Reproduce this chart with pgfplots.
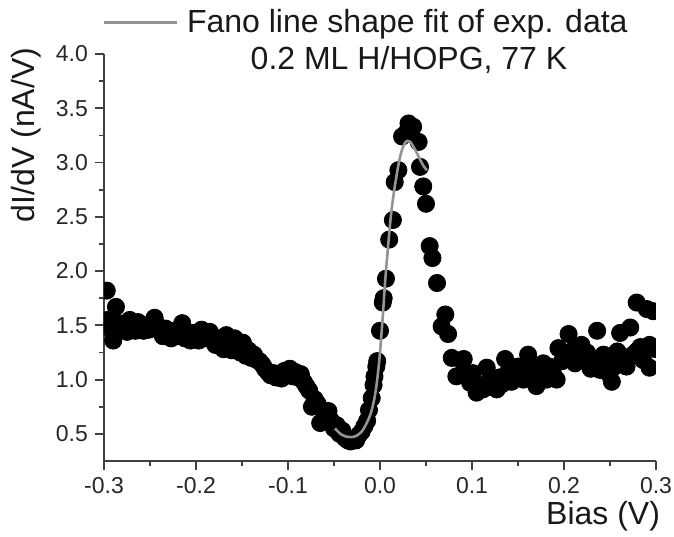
\documentclass[border=0pt]{standalone}
\usepackage{fontspec}
\setmainfont{Liberation Sans}
\usepackage{pgfplots}
\pgfplotsset{compat=1.18}
\begin{document}
\begin{tikzpicture}
\path[use as bounding box] (-52pt,-37.5pt) rectangle (285pt,230.5pt);
\begin{axis}[
  scale only axis,
  width=276pt, height=203.5pt,
  xmin=-0.3, xmax=0.3, ymin=0.25, ymax=4.0,
  clip marker paths=true,
  axis x line*=bottom, axis y line*=left,
  axis line style={draw=black!75, line width=0.9pt},
  tick style={draw=black!75, line width=0.9pt},
  tick align=outside,
  major tick length=4.5pt, minor tick length=2.5pt,
  xtick={-0.3,-0.2,-0.1,0,0.1,0.2,0.3},
  ytick={0.5,1.0,1.5,2.0,2.5,3.0,3.5,4.0},
  minor x tick num=1, minor y tick num=1,
  xticklabels={-0.3,-0.2,-0.1,0.0,0.1,0.2,0.3},
  yticklabels={0.5,1.0,1.5,2.0,2.5,3.0,3.5,4.0},
  /pgf/number format/assume math mode=true,
  ticklabel style={font=\fontsize{11.5}{13}\selectfont, text=black!85},
  xlabel={Bias (V)},
  ylabel={dI/dV (nA/V)},
  label style={font=\fontsize{16}{19}\selectfont, text=black!90},
  xlabel style={at={(axis description cs:1.02,-0.157)}, anchor=base east},
  ylabel style={at={(axis description cs:-0.125,0.801)}, anchor=base},
  legend style={draw=none, fill=none, at={(axis description cs:-0.0036,1.078)}, anchor=west,
    inner sep=0pt, font=\fontsize{16}{19}\selectfont, text=black!90,
    /tikz/every odd column/.append style={column sep=2.5pt}},
  legend image code/.code={\draw[#1, line width=1.3pt] (0pt,0pt) -- (36.5pt,0pt);},
]
\addplot[only marks, mark=*, mark size=4.3pt, black, forget plot] coordinates {
(-0.300,1.52) (-0.297,1.82) (-0.296,1.55) (-0.293,1.47) (-0.290,1.36) (-0.287,1.67)
(-0.284,1.52) (-0.281,1.47) (-0.278,1.50) (-0.275,1.44) (-0.272,1.55) (-0.269,1.50)
(-0.266,1.45) (-0.263,1.53) (-0.260,1.48) (-0.257,1.45) (-0.254,1.50) (-0.251,1.46)
(-0.248,1.52) (-0.245,1.57) (-0.242,1.50) (-0.239,1.45) (-0.236,1.40) (-0.233,1.47)
(-0.230,1.42) (-0.227,1.38) (-0.224,1.45) (-0.221,1.40) (-0.218,1.43) (-0.215,1.52)
(-0.212,1.38) (-0.209,1.40) (-0.206,1.36) (-0.203,1.43) (-0.200,1.40) (-0.197,1.36)
(-0.194,1.46) (-0.191,1.38) (-0.188,1.42) (-0.185,1.44) (-0.182,1.36) (-0.179,1.32)
(-0.176,1.38) (-0.173,1.33) (-0.170,1.28) (-0.167,1.41) (-0.164,1.33) (-0.161,1.27)
(-0.158,1.38) (-0.155,1.30) (-0.152,1.25) (-0.149,1.34) (-0.146,1.22) (-0.143,1.27)
(-0.140,1.20) (-0.137,1.23) (-0.134,1.18) (-0.131,1.17) (-0.128,1.14) (-0.125,1.10)
(-0.122,1.07) (-0.119,1.04) (-0.116,1.06) (-0.113,1.02) (-0.110,1.05) (-0.107,1.01)
(-0.104,1.08) (-0.101,1.05) (-0.098,1.10) (-0.095,1.03) (-0.092,1.07) (-0.089,1.02)
(-0.086,1.05) (-0.083,0.98) (-0.080,0.94) (-0.077,0.90) (-0.074,0.75) (-0.071,0.82)
(-0.068,0.78) (-0.065,0.60) (-0.062,0.72) (-0.059,0.66) (-0.056,0.71) (-0.053,0.62)
(-0.050,0.55) (-0.047,0.58) (-0.044,0.50) (-0.041,0.53) (-0.038,0.46) (-0.035,0.44)
(-0.032,0.43) (-0.029,0.45) (-0.026,0.44) (-0.023,0.49) (-0.020,0.52) (-0.017,0.57)
(-0.014,0.62) (-0.012,0.72) (-0.009,0.83) (-0.007,0.95) (-0.006,1.03) (-0.004,1.12)
(-0.003,1.17) (0.000,1.45) (0.003,1.71) (0.004,1.75) (0.0065,1.93) (0.010,2.29)
(0.014,2.47) (0.016,2.82) (0.020,2.93) (0.024,3.24) (0.029,3.28) (0.031,3.36)
(0.036,3.33) (0.042,3.19) (0.0435,2.96) (0.047,2.78) (0.050,2.62) (0.054,2.23)
(0.057,2.12) (0.062,1.89) (0.067,1.49) (0.071,1.60) (0.074,1.42) (0.078,1.20)
(0.083,1.03) (0.088,1.18) (0.091,1.19) (0.095,1.05) (0.098,0.97) (0.101,1.06)
(0.105,0.88) (0.108,0.95) (0.112,0.91) (0.116,1.11) (0.119,0.99) (0.122,0.93)
(0.127,0.91) (0.130,1.02) (0.133,0.96) (0.136,1.19) (0.140,1.08) (0.143,0.98)
(0.147,1.04) (0.150,1.12) (0.152,1.06) (0.156,1.00) (0.158,1.09) (0.161,1.23)
(0.165,1.03) (0.168,1.10) (0.170,0.94) (0.174,1.04) (0.1775,1.15) (0.181,1.00)
(0.184,1.12) (0.188,1.06) (0.192,1.00) (0.194,1.29) (0.198,1.17) (0.201,1.22)
(0.205,1.42) (0.208,1.26) (0.212,1.15) (0.215,1.29) (0.219,1.32) (0.222,1.20)
(0.225,1.25) (0.229,1.10) (0.232,1.18) (0.236,1.45) (0.239,1.09) (0.243,1.23)
(0.246,1.15) (0.249,1.05) (0.252,0.98) (0.255,1.12) (0.258,1.26) (0.261,1.43)
(0.264,1.18) (0.268,1.12) (0.272,1.48) (0.275,1.23) (0.279,1.71) (0.279,1.26)
(0.283,1.30) (0.286,1.18) (0.290,1.65) (0.293,1.32) (0.293,1.11) (0.297,1.63)
(0.300,1.28)
};
\addplot[smooth, color=black!42, line width=1.3pt] coordinates {
(-0.049,0.55) (-0.043,0.50) (-0.037,0.475) (-0.032,0.47) (-0.026,0.48) (-0.020,0.52)
(-0.015,0.59) (-0.010,0.69) (-0.006,0.83) (-0.003,1.00) (0.000,1.25) (0.003,1.58)
(0.006,1.95) (0.009,2.25) (0.012,2.52) (0.015,2.72) (0.018,2.88) (0.021,3.02)
(0.024,3.12) (0.027,3.18) (0.030,3.20) (0.033,3.19) (0.036,3.15) (0.040,3.09)
(0.044,3.02) (0.048,2.96) (0.051,2.93)
};
\addlegendentry{Fano line shape fit of exp. data}
\end{axis}
\node[anchor=base, font=\fontsize{16}{19}\selectfont, text=black!90] at (152.5pt,195.5pt) {0.2 ML H/HOPG, 77 K};
\end{tikzpicture}
\end{document}
